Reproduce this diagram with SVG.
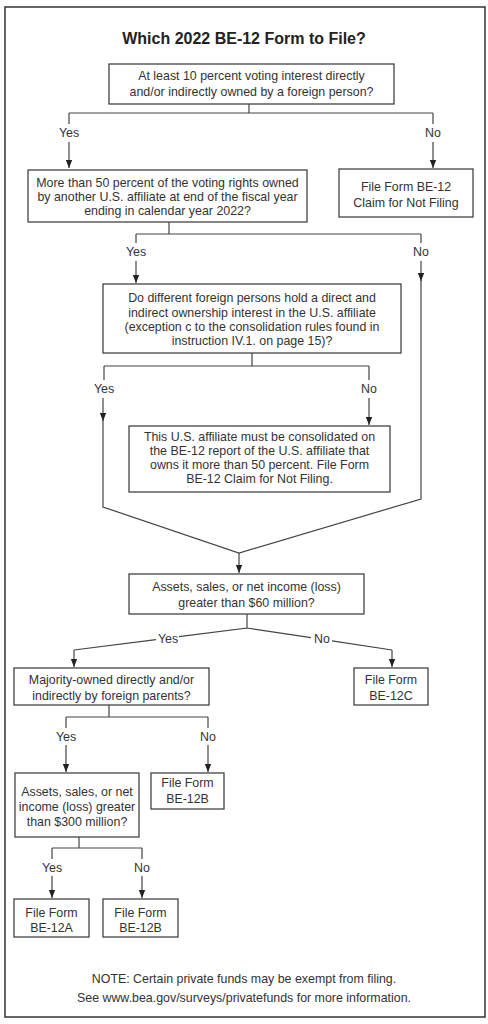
<svg xmlns="http://www.w3.org/2000/svg" width="488" height="1024" viewBox="0 0 488 1024">
<style>
  .box{fill:#fff;stroke:#444;stroke-width:1.3}
  .t{font-family:"Liberation Sans",Arial,sans-serif;font-size:12.4px;fill:#333;text-anchor:middle}
  .title{font-family:"Liberation Sans",Arial,sans-serif;font-size:16px;font-weight:bold;fill:#222;text-anchor:middle}
  .ln{fill:none;stroke:#444;stroke-width:1.2}
</style>
<defs>
  <marker id="ah" viewBox="0 0 8 8" refX="8" refY="4" markerWidth="8" markerHeight="8" orient="auto" markerUnits="userSpaceOnUse">
    <path d="M0,0.8 L8,4 L0,7.2 z" fill="#222"/>
  </marker>
</defs>
<rect x="0" y="0" width="488" height="1024" fill="#fff"/>
<rect x="5" y="7" width="480" height="1010" fill="none" stroke="#333" stroke-width="1.5"/>
<text class="title" x="244" y="44">Which 2022 BE-12 Form to File?</text>

<g id="connectors">
  <path class="ln" d="M249,104 V113 M69,113 H433 M69,113 V124 M433,113 V124"/>
  <path class="ln" d="M69,142 V168" marker-end="url(#ah)"/>
  <path class="ln" d="M433,142 V168" marker-end="url(#ah)"/>
  <path class="ln" d="M169,222 V234 M136,234 H421 M136,234 V243 M421,234 V243"/>
  <path class="ln" d="M136,261 V283" marker-end="url(#ah)"/>
  <path class="ln" d="M421,261 V281" marker-end="url(#ah)"/>
  <path class="ln" d="M421,280 V499 L239,553 L103,507 V420"/>
  <path class="ln" d="M252,353 V366 M104,366 H369 M104,366 V380 M369,366 V380"/>
  <path class="ln" d="M103,398 V421" marker-end="url(#ah)"/>
  <path class="ln" d="M369,398 V425" marker-end="url(#ah)"/>
  <path class="ln" d="M239,553 V573" marker-end="url(#ah)"/>
  <path class="ln" d="M247,614 V628 L179,636.6 M156,639.6 L74,650 M247,628 L311,637.7 M332,640.9 L392,650"/>
  <path class="ln" d="M74,650 V667" marker-end="url(#ah)"/>
  <path class="ln" d="M392,650 V667" marker-end="url(#ah)"/>
  <path class="ln" d="M109,705 V717 M66,717 H208 M66,717 V728 M208,717 V728"/>
  <path class="ln" d="M66,745 V772" marker-end="url(#ah)"/>
  <path class="ln" d="M208,745 V772" marker-end="url(#ah)"/>
  <path class="ln" d="M79,837 V848 M52,848 H142 M52,848 V859 M142,848 V859"/>
  <path class="ln" d="M52,876 V898" marker-end="url(#ah)"/>
  <path class="ln" d="M142,876 V898" marker-end="url(#ah)"/>
</g>

<g id="labels">
  <text class="t" x="69" y="137">Yes</text>
  <text class="t" x="433" y="137">No</text>
  <text class="t" x="136" y="256">Yes</text>
  <text class="t" x="421" y="256">No</text>
  <text class="t" x="104" y="393">Yes</text>
  <text class="t" x="369" y="393">No</text>
  <text class="t" x="168" y="643">Yes</text>
  <text class="t" x="322" y="643">No</text>
  <text class="t" x="66" y="741">Yes</text>
  <text class="t" x="208" y="741">No</text>
  <text class="t" x="52" y="872">Yes</text>
  <text class="t" x="142" y="872">No</text>
</g>

<g id="n1">
  <rect class="box" x="109" y="64" width="285" height="40"/>
  <text class="t" x="251.5" y="80">At least 10 percent voting interest directly</text>
  <text class="t" x="251.5" y="95.5">and/or indirectly owned by a foreign person?</text>
</g>
<g id="n2">
  <rect class="box" x="28" y="170" width="279" height="52"/>
  <text class="t" x="167.5" y="187">More than 50 percent of the voting rights owned</text>
  <text class="t" x="167.5" y="201">by another U.S. affiliate at end of the fiscal year</text>
  <text class="t" x="167.5" y="215">ending in calendar year 2022?</text>
</g>
<g id="n3">
  <rect class="box" x="339" y="169" width="134" height="48"/>
  <text class="t" x="406" y="190.5">File Form BE-12</text>
  <text class="t" x="406" y="206.5">Claim for Not Filing</text>
</g>
<g id="n4">
  <rect class="box" x="103" y="284" width="298" height="69"/>
  <text class="t" x="252" y="302.3">Do different foreign persons hold a direct and</text>
  <text class="t" x="252" y="316.6">indirect ownership interest in the U.S. affiliate</text>
  <text class="t" x="252" y="330.9">(exception c to the consolidation rules found in</text>
  <text class="t" x="252" y="345.2">instruction IV.1. on page 15)?</text>
</g>
<g id="n5">
  <rect class="box" x="129" y="426" width="261" height="66"/>
  <text class="t" x="259.5" y="440.7">This U.S. affiliate must be consolidated on</text>
  <text class="t" x="259.5" y="454.9">the BE-12 report of the U.S. affiliate that</text>
  <text class="t" x="259.5" y="469.1">owns it more than 50 percent. File Form</text>
  <text class="t" x="259.5" y="483.3">BE-12 Claim for Not Filing.</text>
</g>
<g id="n6">
  <rect class="box" x="129" y="574" width="235" height="40"/>
  <text class="t" x="246.5" y="590.7">Assets, sales, or net income (loss)</text>
  <text class="t" x="246.5" y="606.7">greater than $60 million?</text>
</g>
<g id="n7">
  <rect class="box" x="14" y="668" width="195" height="37"/>
  <text class="t" x="111.5" y="684">Majority-owned directly and/or</text>
  <text class="t" x="111.5" y="700">indirectly by foreign parents?</text>
</g>
<g id="n8">
  <rect class="box" x="354" y="668" width="74" height="37"/>
  <text class="t" x="391" y="684">File Form</text>
  <text class="t" x="391" y="700">BE-12C</text>
</g>
<g id="n9">
  <rect class="box" x="15" y="773" width="124" height="64"/>
  <text class="t" x="77" y="795.7">Assets, sales, or net</text>
  <text class="t" x="77" y="810.7">income (loss) greater</text>
  <text class="t" x="77" y="825.7">than $300 million?</text>
</g>
<g id="n10">
  <rect class="box" x="151" y="773" width="73" height="36"/>
  <text class="t" x="187.5" y="787.3">File Form</text>
  <text class="t" x="187.5" y="802.7">BE-12B</text>
</g>
<g id="n11">
  <rect class="box" x="14" y="899" width="75" height="38"/>
  <text class="t" x="51.5" y="916.7">File Form</text>
  <text class="t" x="51.5" y="931.7">BE-12A</text>
</g>
<g id="n12">
  <rect class="box" x="103" y="899" width="75" height="38"/>
  <text class="t" x="140.5" y="916.7">File Form</text>
  <text class="t" x="140.5" y="931.7">BE-12B</text>
</g>

<g id="note">
  <text class="t" x="244" y="983">NOTE: Certain private funds may be exempt from filing.</text>
  <text class="t" x="244" y="1001.7">See www.bea.gov/surveys/privatefunds for more information.</text>
</g>
</svg>
